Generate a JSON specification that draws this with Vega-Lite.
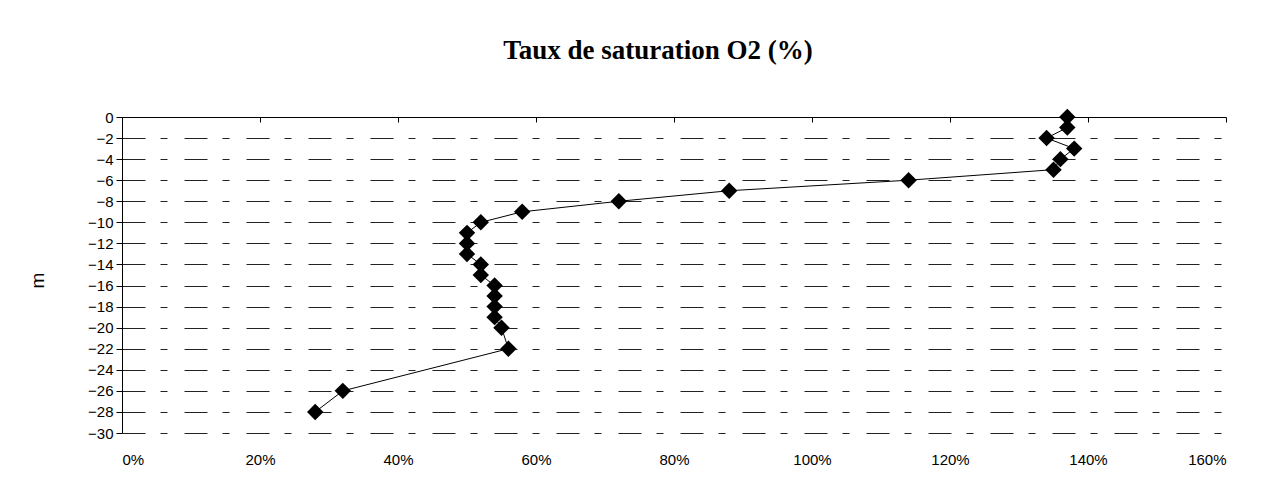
{
  "$schema": "https://vega.github.io/schema/vega-lite/v6.json",
  "width": 1104,
  "height": 316,
  "autosize": {"type": "none"},
  "padding": {"left": 122, "top": 117, "right": 52, "bottom": 64},
  "background": "white",
  "title": {
    "text": "Taux de saturation O2 (%)",
    "font": "Liberation Serif",
    "fontWeight": "bold",
    "fontSize": 27,
    "color": "black",
    "anchor": "middle",
    "dx": -16,
    "offset": 44
  },
  "config": {
    "view": {"stroke": null},
    "axis": {"labelFont": "Liberation Sans", "labelFontSize": 15, "labelColor": "black", "titleFont": "Liberation Sans", "titleColor": "black", "titleFontWeight": "normal"}
  },
  "data": {
    "values": [
      {"m": 0, "pct": 137},
      {"m": -1, "pct": 137},
      {"m": -2, "pct": 134},
      {"m": -3, "pct": 138},
      {"m": -4, "pct": 136},
      {"m": -5, "pct": 135},
      {"m": -6, "pct": 114},
      {"m": -7, "pct": 88},
      {"m": -8, "pct": 72},
      {"m": -9, "pct": 58},
      {"m": -10, "pct": 52},
      {"m": -11, "pct": 50},
      {"m": -12, "pct": 50},
      {"m": -13, "pct": 50},
      {"m": -14, "pct": 52},
      {"m": -15, "pct": 52},
      {"m": -16, "pct": 54},
      {"m": -17, "pct": 54},
      {"m": -18, "pct": 54},
      {"m": -19, "pct": 54},
      {"m": -20, "pct": 55},
      {"m": -22, "pct": 56},
      {"m": -26, "pct": 32},
      {"m": -28, "pct": 28}
    ]
  },
  "encoding": {
    "x": {
      "field": "pct",
      "type": "quantitative",
      "scale": {"domain": [0, 160], "nice": false, "zero": true},
      "axis": null
    },
    "y": {
      "field": "m",
      "type": "quantitative",
      "scale": {"domain": [-30, 0], "nice": false},
      "axis": {
        "orient": "left",
        "values": [0, -2, -4, -6, -8, -10, -12, -14, -16, -18, -20, -22, -24, -26, -28, -30],
        "title": "m",
        "titleFontSize": 19,
        "titleAngle": -90,
        "titleX": -85,
        "titleY": 163,
        "titleAlign": "center",
        "titleBaseline": "middle",
        "domainColor": "black",
        "domainWidth": 1,
        "tickColor": "black",
        "tickSize": 6,
        "labelPadding": 3,
        "grid": true,
        "gridColor": "#222",
        "gridWidth": 1,
        "gridDash": [23, 15, 7, 17]
      }
    }
  },
  "layer": [
    {
      "mark": {"type": "line", "color": "black", "strokeWidth": 1},
      "encoding": {
        "order": {"field": "m", "type": "quantitative", "sort": "descending"},
        "x": {
          "field": "pct",
          "type": "quantitative",
          "scale": {"domain": [0, 160], "nice": false},
          "axis": {
            "orient": "top",
            "values": [0, 20, 40, 60, 80, 100, 120, 140, 160],
            "labels": false,
            "title": null,
            "grid": false,
            "domainColor": "black",
            "tickColor": "black",
            "tickSize": -5
          }
        }
      }
    },
    {
      "mark": {"type": "point", "shape": "diamond", "filled": true, "color": "black", "opacity": 1, "size": 270},
      "encoding": {
        "x": {
          "field": "pct",
          "type": "quantitative",
          "scale": {"domain": [0, 160], "nice": false},
          "axis": {
            "orient": "bottom",
            "values": [0, 20, 40, 60, 80, 100, 120, 140, 160],
            "labelExpr": "datum.value + '%'",
            "domain": false,
            "ticks": false,
            "grid": false,
            "title": null,
            "labelPadding": 19
          }
        }
      }
    }
  ]
}
